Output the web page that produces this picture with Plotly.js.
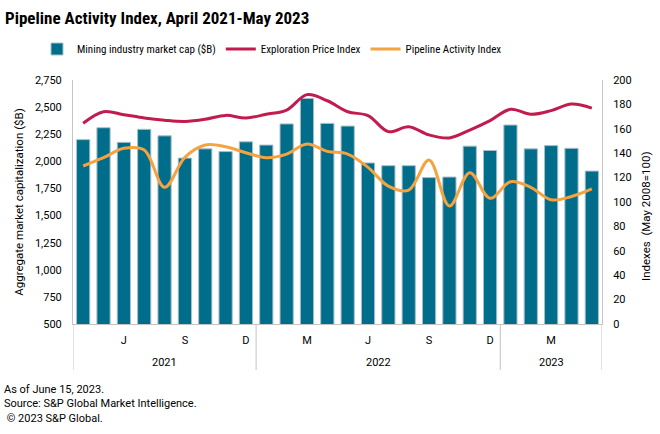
<!DOCTYPE html>
<html>
<head>
<meta charset="utf-8">
<script src="https://cdn.plot.ly/plotly-3.0.1.min.js"></script>
<style>html,body{margin:0;padding:0;background:#fff;}#chart{width:660px;height:434px;}</style>
</head>
<body>
<div id="chart"></div>
<script>
const categories = ['Apr 2021','May 2021','Jun 2021','Jul 2021','Aug 2021','Sep 2021','Oct 2021','Nov 2021','Dec 2021',
  'Jan 2022','Feb 2022','Mar 2022','Apr 2022','May 2022','Jun 2022','Jul 2022','Aug 2022','Sep 2022','Oct 2022','Nov 2022','Dec 2022',
  'Jan 2023','Feb 2023','Mar 2023','Apr 2023','May 2023'];
const marketCap = [2200, 2310, 2175, 2295, 2235, 2030, 2115, 2090, 2180, 2150, 2345, 2580, 2350, 2325, 1985, 1960, 1960, 1850, 1855, 2140, 2100, 2335, 2115, 2145, 2120, 1910];
const explorationPriceIndex = [164.5, 174, 171.6, 168.9, 167, 166, 167.8, 171, 168.9, 171.9, 175.4, 188, 183, 174, 170.8, 157.7, 161.7, 155, 152.5, 159, 166.7, 176, 171.9, 174.9, 180.3, 177];
const pipelineActivityIndex = [129.5, 136.3, 144, 142.6, 112, 136.6, 146.7, 145.3, 140.4, 136.3, 139.3, 147.5, 141.5, 139.3, 128.4, 113, 109.7, 134.4, 96.7, 124, 103, 116.6, 112, 101.8, 104.5, 110.7];
const monthTickVals = ['Jun 2021','Sep 2021','Dec 2021','Mar 2022','Jun 2022','Sep 2022','Dec 2022','Mar 2023'];
const monthTickText = ['J','S','D','M','J','S','D','M'];
const years = ['2021','2022','2023'];
const footnotes = ['As of June 15, 2023.', 'Source: S&P Global Market Intelligence.', ' © 2023 S&P Global.'];

const FONT = 'Roboto, "Liberation Sans", sans-serif';
const NARROW = '"Liberation Sans Narrow", "Roboto Condensed", Roboto, sans-serif';
const AXIS_GREY = '#c4c4c4';

const traces = [
  {type:'bar', name:'Mining industry market cap ($B)', x:categories, y:marketCap, yaxis:'y',
   width:0.65, marker:{color:'#006E8A', line:{color:'#a9bec8', width:1}}},
  {type:'scatter', mode:'lines', name:'Exploration Price Index', x:categories, y:explorationPriceIndex, yaxis:'y2',
   line:{color:'#C21B4E', width:3, shape:'spline', smoothing:1}},
  {type:'scatter', mode:'lines', name:'Pipeline Activity Index', x:categories, y:pipelineActivityIndex, yaxis:'y2',
   line:{color:'#F4A340', width:3, shape:'spline', smoothing:1}}
];

const shapes = [];
const annotations = [];
const yearBounds = years.map(y => {
  const idx = categories.map((c,i)=>c.endsWith(y)?i:-1).filter(i=>i>=0);
  return {year:y, first:idx[0], last:idx[idx.length-1]};
});
const sepDepth = 46/244;
shapes.push({type:'line', xref:'x', yref:'paper', x0:-0.5, x1:-0.5, y0:0, y1:-sepDepth, line:{color:AXIS_GREY, width:1}});
yearBounds.forEach(b => {
  shapes.push({type:'line', xref:'x', yref:'paper', x0:b.last+0.5, x1:b.last+0.5, y0:0, y1:-sepDepth, line:{color:AXIS_GREY, width:1}});
  annotations.push({xref:'x', yref:'paper', x:(b.first+b.last)/2, y:-38/244, yanchor:'middle', xanchor:'center',
    text:b.year, showarrow:false, font:{family:FONT, size:11, color:'#000'}});
});
annotations.push({xref:'paper', yref:'paper', x:-70/529, y:-(404-324)/244, xanchor:'left', yanchor:'middle',
  align:'left', text:footnotes.join('<br>'), showarrow:false, borderpad:0, font:{family:FONT, size:11, color:'#000'}});
annotations.push({xref:'paper', yref:'paper', x:(646-73)/529, y:(324-217)/244, xanchor:'center', yanchor:'middle',
  textangle:-90, text:'Indexes  (May 2008=100)', showarrow:false, font:{family:FONT, size:11.5, color:'#000'}});

const layout = {
  width:660, height:434,
  margin:{l:73, r:58, t:80, b:110},
  paper_bgcolor:'#fff', plot_bgcolor:'#fff',
  font:{family:FONT, size:11, color:'#000'},
  title:{text:'Pipeline Activity Index, April 2021-May 2023', x:5/660, xanchor:'left', xref:'container',
    y:1-18/434, yanchor:'middle', yref:'container', font:{family:NARROW, size:17, color:'#000', weight:'bold'}},
  showlegend:true,
  legend:{orientation:'h', x:(272-73)/529, xanchor:'center', y:1+(80-49)/244, yanchor:'middle',
    font:{family:NARROW, size:11, color:'#000'}, traceorder:'normal', itemwidth:30, bgcolor:'rgba(0,0,0,0)'},
  bargap:0.35,
  xaxis:{type:'category', range:[-0.5, 25.5], showline:true, linecolor:AXIS_GREY, linewidth:1,
    showgrid:false, zeroline:false, ticks:'outside', ticklen:6, tickcolor:'rgba(0,0,0,0)',
    tickmode:'array', tickvals:monthTickVals, ticktext:monthTickText, tickfont:{family:FONT, size:11, color:'#000'}},
  yaxis:{range:[500, 2750], dtick:250, tickformat:',', showgrid:false, zeroline:false, showline:true,
    linecolor:AXIS_GREY, linewidth:1, ticks:'outside', ticklen:8, tickcolor:'rgba(0,0,0,0)',
    tickfont:{family:FONT, size:11, color:'#000'},
    title:{text:'Aggregate market capitalization ($B)', font:{family:FONT, size:11.5, color:'#000'}, standoff:8}},
  yaxis2:{range:[0, 200], dtick:20, overlaying:'y', side:'right', showgrid:false, zeroline:false, showline:true,
    linecolor:AXIS_GREY, linewidth:1, ticks:'outside', ticklen:8, tickcolor:'rgba(0,0,0,0)',
    tickfont:{family:FONT, size:11, color:'#000'}},
  shapes:shapes,
  annotations:annotations
};

Plotly.newPlot('chart', traces, layout, {displayModeBar:false, responsive:false});
</script>
</body>
</html>
